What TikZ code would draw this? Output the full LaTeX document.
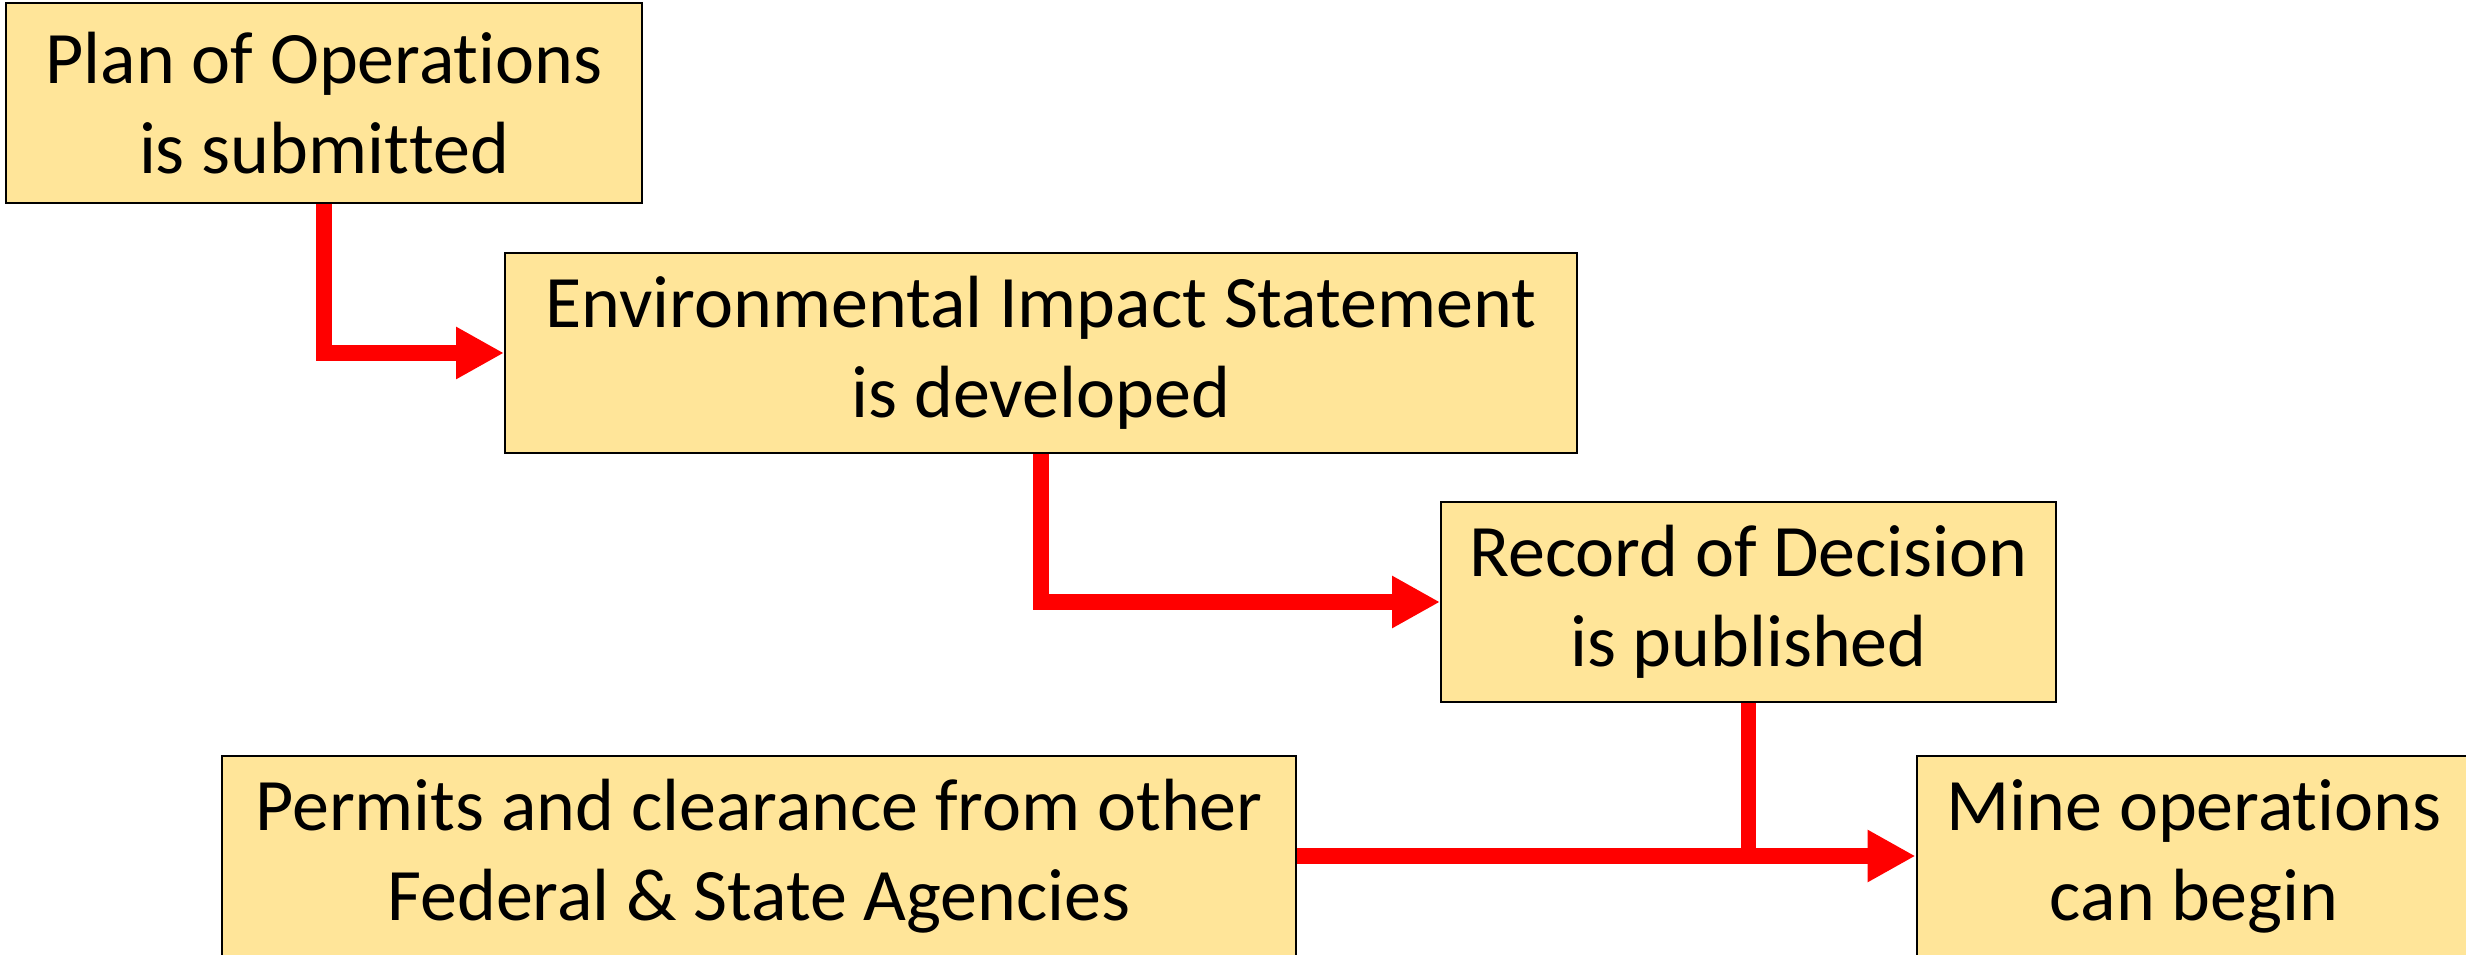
\documentclass[tikz,border=0pt]{standalone}
\usepackage{fontspec}
\setmainfont{Carlito}[Ligatures={NoCommon,NoContextual},Contextuals=NoAlternate]
\usetikzlibrary{arrows.meta}
\definecolor{boxfill}{HTML}{FFE599}
\definecolor{arrred}{HTML}{FF0000}
\begin{document}
\begin{tikzpicture}[x=0.3pt,y=-0.3pt,
  box/.style={draw=black,line width=0.6pt,fill=boxfill,align=center,
    minimum height=60pt,inner sep=0pt,
    font=\fontsize{22.2}{27}\selectfont},
  arr/.style={draw=arrred,line width=4.65pt,line join=miter,
    -{Triangle[length=14.4pt,width=14.7pt]}},
  redline/.style={draw=arrred,line width=4.65pt}]
\useasboundingbox (0,0) rectangle (2466,955);
\node[box,minimum width=190.8pt] (b1) at (324,103) {Plan of Operations\\is submit\kern0pt ted};
\node[box,minimum width=321.6pt] (b2) at (1041,353) {Environmental Impact Statement\\is developed};
\node[box,minimum width=184.5pt] (b3) at (1748.5,602) {Record of Decision\\is published};
\node[box,minimum width=322.2pt] (b4) at (759,856) {Permits and clearance from other\\Federal \& State Agencies};
\node[box,minimum width=166.5pt] (b5) at (2194,856) {Mine operations\\can begin};
\draw[arr] (b1.south) |- (b2.west);
\draw[arr] (b2.south) |- (b3.west);
\draw[arr] (b4.east) -- (b5.west);
\coordinate (j) at ([yshift=-2.3pt]b3.south |- b4.east);
\draw[redline] (b3.south) -- (j);
\end{tikzpicture}
\end{document}
